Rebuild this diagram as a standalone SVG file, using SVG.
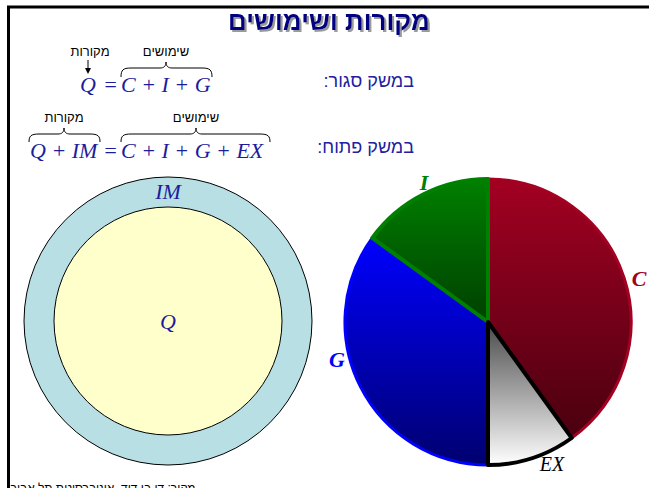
<svg xmlns="http://www.w3.org/2000/svg" width="649" height="488" viewBox="0 0 649 488">
<style>
.math{font-family:"Liberation Serif","Times New Roman",serif;font-style:italic;fill:#1c1c9c;font-size:22px}
.heb{font-family:"Liberation Sans",Arial,sans-serif;fill:#000;font-size:13px}
.lbl{font-family:"Liberation Sans",Arial,sans-serif;fill:#2020a0;font-size:18px}
.brace{fill:none;stroke:#000;stroke-width:1}
.pl{font-family:"Liberation Serif","Times New Roman",serif;font-style:italic;font-weight:bold;font-size:22px}
</style>
<defs>
<linearGradient id="gC" x1="0" y1="0" x2="0" y2="1"><stop offset="0" stop-color="#a30022"/><stop offset="1" stop-color="#4a0010"/></linearGradient>
<linearGradient id="gG" x1="0" y1="0" x2="0" y2="1"><stop offset="0" stop-color="#0000ff"/><stop offset="1" stop-color="#000070"/></linearGradient>
<linearGradient id="gI" x1="0" y1="0" x2="0" y2="1"><stop offset="0" stop-color="#008000"/><stop offset="1" stop-color="#004000"/></linearGradient>
<linearGradient id="gE" x1="0" y1="0" x2="0" y2="1"><stop offset="0" stop-color="#4a4a4a"/><stop offset="1" stop-color="#ffffff"/></linearGradient>
<filter id="shadow" x="-10%" y="-30%" width="130%" height="160%">
<feOffset in="SourceAlpha" dx="2" dy="2" result="off"/>
<feFlood flood-color="#9a9a9a"/>
<feComposite in2="off" operator="in" result="sh"/>
<feMerge><feMergeNode in="sh"/><feMergeNode in="SourceGraphic"/></feMerge>
</filter>
</defs>
<rect width="649" height="488" fill="#fff"/>
<g id="frame">
<path d="M8.5,488 L8.5,7 L649,7" fill="none" stroke="#000" stroke-width="3"/>
</g>
<g id="title">
<text x="329" y="30" text-anchor="middle" direction="rtl" font-family="'Liberation Sans',Arial,sans-serif" font-weight="bold" font-size="26" fill="#000080" filter="url(#shadow)">מקורות ושימושים</text>
</g>
<g id="eq1">
<text class="math" x="80" y="92">Q</text>
<text class="math" x="103" y="92" font-style="normal">=</text>
<text class="math" x="121" y="92">C + I + G</text>
<path class="brace" d="M121,77 C121,70 123,68 131,68 L160,68 C164,68 166,66 166,62 C166,66 168,68 172,68 L202,68 C210,68 212,70 212,77"/>
<text class="heb" x="166" y="56" text-anchor="middle" direction="rtl">שימושים</text>
<text class="heb" x="90" y="56" text-anchor="middle" direction="rtl">מקורות</text>
<line x1="88" y1="60" x2="88" y2="72" stroke="#000" stroke-width="1"/>
<path d="M85,68 L91,68 L88,74 Z" fill="#000"/>
<text class="lbl" x="414" y="87" text-anchor="start" direction="rtl">במשק סגור:</text>
</g>
<g id="eq2">
<text class="math" x="30" y="158">Q + IM</text>
<text class="math" x="103" y="158" font-style="normal">=</text>
<text class="math" x="121" y="158">C + I + G + EX</text>
<path class="brace" d="M29,142 C29,136 31,134 39,134 L58,134 C62,134 64,132 64,128 C64,132 66,134 70,134 L90,134 C98,134 100,136 100,142"/>
<path class="brace" d="M121,142 C121,136 123,134 131,134 L190,134 C194,134 196,132 196,128 C196,132 198,134 202,134 L260,134 C268,134 270,136 270,142"/>
<text class="heb" x="64" y="122" text-anchor="middle" direction="rtl">מקורות</text>
<text class="heb" x="196" y="122" text-anchor="middle" direction="rtl">שימושים</text>
<text class="lbl" x="414" y="153" text-anchor="start" direction="rtl">במשק פתוח:</text>
</g>
<g id="circles">
<circle cx="168" cy="321" r="144" fill="#b8dfe3" stroke="#000" stroke-width="1"/>
<circle cx="168" cy="321" r="114" fill="#ffffcc" stroke="#000" stroke-width="1"/>
<text class="math" x="168" y="199" text-anchor="middle" font-size="20">IM</text>
<text class="math" x="168" y="329" text-anchor="middle" font-size="20">Q</text>
</g>
<g id="pie">
<path id="sC" d="M488,322 L488,179 A143,143 0 0 1 571.7,438 Z" fill="url(#gC)" stroke="#a30022" stroke-width="3" stroke-linejoin="round"/>
<path id="sG" d="M488,322 L488,465 A143,143 0 0 1 372.3,237.9 Z" fill="url(#gG)" stroke="#0000ff" stroke-width="3" stroke-linejoin="round"/>
<path id="sI" d="M488,322 L372.3,237.9 A143,143 0 0 1 488,179 Z" fill="url(#gI)" stroke="#008000" stroke-width="4" stroke-linejoin="round"/>
<path id="sE" d="M488,322 L571.7,438 A143,143 0 0 1 488,465 Z" fill="url(#gE)" stroke="#000" stroke-width="4" stroke-linejoin="round"/>
<text class="pl" x="424" y="190" text-anchor="middle" fill="#008000">I</text>
<text class="pl" x="639" y="286" text-anchor="middle" fill="#a30022">C</text>
<text class="pl" x="337" y="367" text-anchor="middle" fill="#0000ff">G</text>
<text x="552" y="471" text-anchor="middle" font-family="'Liberation Serif','Times New Roman',serif" font-style="italic" font-size="20" fill="#000">EX</text>
</g>
<g id="source">
<text x="10" y="492" text-anchor="end" direction="rtl" font-family="'Liberation Sans',Arial,sans-serif" font-size="12" fill="#000">מקור: דן בן דוד, אוניברסיטת תל אביב</text>
</g>
</svg>
